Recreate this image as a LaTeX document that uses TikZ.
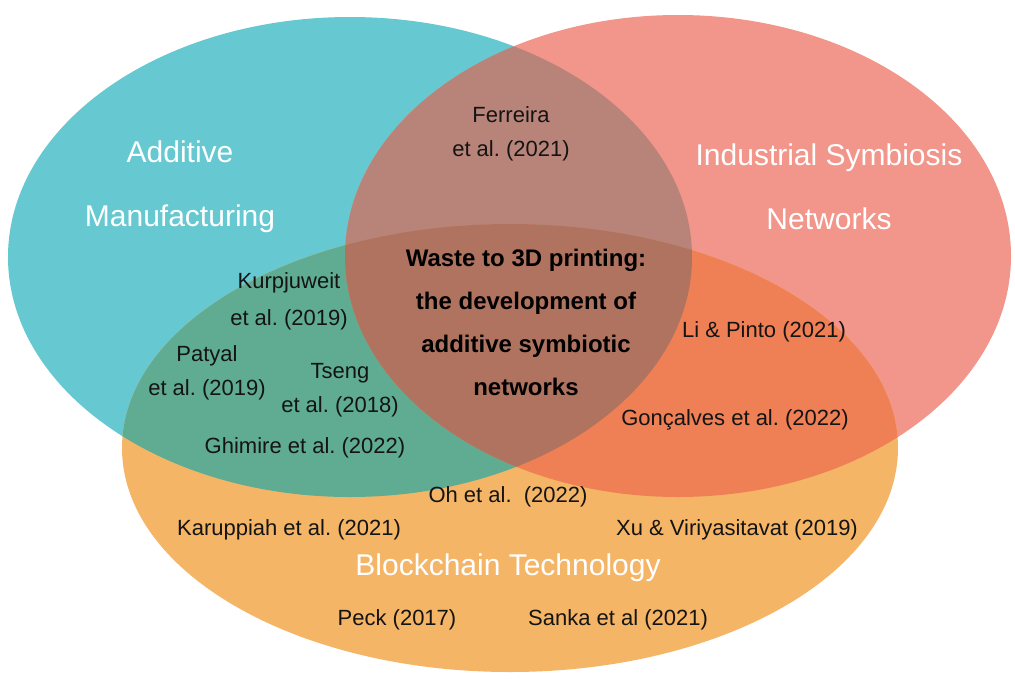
\documentclass[tikz,border=0pt]{standalone}
\usepackage{xcolor}
\usepackage{fontspec}
\usepackage{tikz}
\setmainfont{Liberation Sans}
\frenchspacing
\definecolor{amteal}{HTML}{66C8D0}
\definecolor{ispink}{HTML}{F2958A}
\definecolor{bcorange}{HTML}{F5B567}
\definecolor{ampink}{HTML}{B88378}
\definecolor{amorange}{HTML}{5FAC92}
\definecolor{isorange}{HTML}{EF7F55}
\definecolor{allthree}{HTML}{B0735F}
\newcommand{\amset}{(350,257) ellipse [x radius=342pt, y radius=240pt]}
\newcommand{\isset}{(678,256) ellipse [x radius=333pt, y radius=241pt]}
\newcommand{\bcset}{(510,448) ellipse [x radius=388pt, y radius=224pt]}

\begin{document}
\begin{tikzpicture}[x = 1pt, y = -1pt,
	paper/.style = {align = center, text = black!92, font = \fontsize{22}{34}\selectfont},
	setname/.style = {align = center, text = white, font = \fontsize{30}{64}\selectfont},
	topic/.style = {align = center, text = black, font = \bfseries\fontsize{24}{43}\selectfont}]
	\useasboundingbox (0,0) rectangle (1015,681);
	% the three sets
	\fill [amteal] \amset;
	\fill [ispink] \isset;
	\fill [bcorange] \bcset;
	\begin{scope}
		\clip \amset;
		\fill [ampink] \isset;
		\fill [amorange] \bcset;
	\end{scope}
	\begin{scope}
		\clip \isset;
		\fill [isorange] \bcset;
		\clip \amset;
		\fill [allthree] \bcset;
	\end{scope}
	% set names
	\node (am) at (180,187) [setname] {Additive\\Manufacturing};
	\node (is) at (829,187) [setname] {Industrial Symbiosis\\Networks};
	\node (bc) at (508,568) [setname] {Blockchain Technology};
	% centre
	\node (w) at (526,322) [topic] {Waste to 3D printing:\\the development of\\additive symbiotic\\networks};
	% papers
	\node (fe) at (511,134) [paper] {Ferreira\\et al. (2021)};
	\node (ku) at (289,301) [paper, font = \fontsize{22}{37}\selectfont] {Kurpjuweit\\et al. (2019)};
	\node (pa) at (207,373) [paper] {Patyal\\et al. (2019)};
	\node (ts) at (340,390) [paper] {Tseng\\et al. (2018)};
	\node (gh) at (305,448) [paper] {Ghimire et al. (2022)};
	\node (li) at (764,332) [paper] {Li \& Pinto (2021)};
	\node (go) at (735,420) [paper] {Gonçalves et al. (2022)};
	\node (oh) at (508,497) [paper] {Oh et al.\ \ (2022)};
	\node (ka) at (289,530) [paper] {Karuppiah et al. (2021)};
	\node (xu) at (737,530) [paper] {Xu \& Viriyasitavat (2019)};
	\node (pe) at (397,620) [paper] {Peck (2017)};
	\node (sa) at (618,620) [paper] {Sanka et al (2021)};
\end{tikzpicture}
\end{document}
